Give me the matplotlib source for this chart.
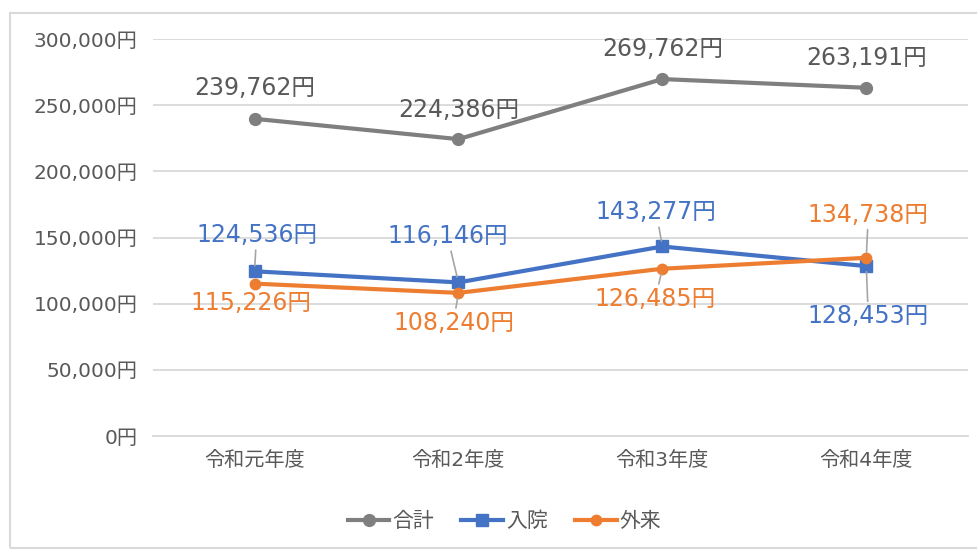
import matplotlib.pyplot as plt
from matplotlib.patches import Rectangle

plt.rcParams['font.family'] = ['DejaVu Sans', 'Noto Sans CJK JP']

categories = ['令和元年度', '令和2年度', '令和3年度', '令和4年度']
total = [239762, 224386, 269762, 263191]
inpatient = [124536, 116146, 143277, 128453]
outpatient = [115226, 108240, 126485, 134738]

# label offsets in pixels (dx, dy)
total_off = [(0, 31), (0, 29), (0, 30), (0, 30)]
inpatient_off = [(2, 36), (-11, 46), (-6, 34), (2, -50)]
outpatient_off = [(-4, -19), (-5, -30), (-7, -30), (2, 43)]

GRAY = '#7f7f7f'
BLUE = '#4472C4'
ORANGE = '#ED7D31'
TEXT = '#595959'

fig = plt.figure(figsize=(9.78, 5.5), dpi=100)
ax = fig.add_axes([0.156, 0.207, 0.834, 0.722])

x = range(len(categories))
ax.plot(x, total, color=GRAY, lw=3, marker='o', ms=8.5, label='合計', zorder=3)
ax.plot(x, inpatient, color=BLUE, lw=3, marker='s', ms=8.5, label='入院', zorder=3)
ax.plot(x, outpatient, color=ORANGE, lw=3, marker='o', ms=7.5, label='外来', zorder=4)


def put_labels(vals, offs, color):
    for i, (v, (dx, dy)) in enumerate(zip(vals, offs)):
        kw = {}
        if abs(dy) > 25 and color != TEXT:
            kw['arrowprops'] = dict(arrowstyle='-', color='#a6a6a6', lw=1.2,
                                    shrinkA=0, shrinkB=4)
        ax.annotate(f'{v:,}円', (i, v), xytext=(dx, dy), textcoords='offset pixels',
                    ha='center', va='center', fontsize=17, color=color,
                    zorder=5, **kw)


put_labels(total, total_off, TEXT)
put_labels(inpatient, inpatient_off, BLUE)
put_labels(outpatient, outpatient_off, ORANGE)

ax.set_xlim(-0.5, 3.5)
ax.set_ylim(0, 300000)
ax.set_yticks(range(0, 300001, 50000))
ax.set_yticklabels([f'{t:,}円' for t in range(0, 300001, 50000)])
ax.set_xticks(list(x))
ax.set_xticklabels(categories)
ax.tick_params(length=0, labelsize=14.5, labelcolor=TEXT)
ax.tick_params(axis='x', labelsize=14.5, pad=11)
ax.tick_params(axis='y', pad=11)
ax.grid(axis='y', color='#d9d9d9', lw=1.3)
ax.set_axisbelow(True)
for s in ['top', 'right', 'left']:
    ax.spines[s].set_visible(False)
ax.spines['bottom'].set_color('#d9d9d9')
ax.spines['bottom'].set_linewidth(1.3)

fig.legend(loc='center', bbox_to_anchor=(0.516, 0.053), ncol=3, frameon=False,
           fontsize=15, labelcolor=TEXT, handlelength=2.0, columnspacing=1.3,
           handletextpad=0.15)

fig.patches.append(Rectangle((10 / 978, 2 / 550), 1, 535 / 550, transform=fig.transFigure,
                             fill=False, edgecolor='#d9d9d9', lw=1.5))

fig.savefig('out.png', dpi=100)
